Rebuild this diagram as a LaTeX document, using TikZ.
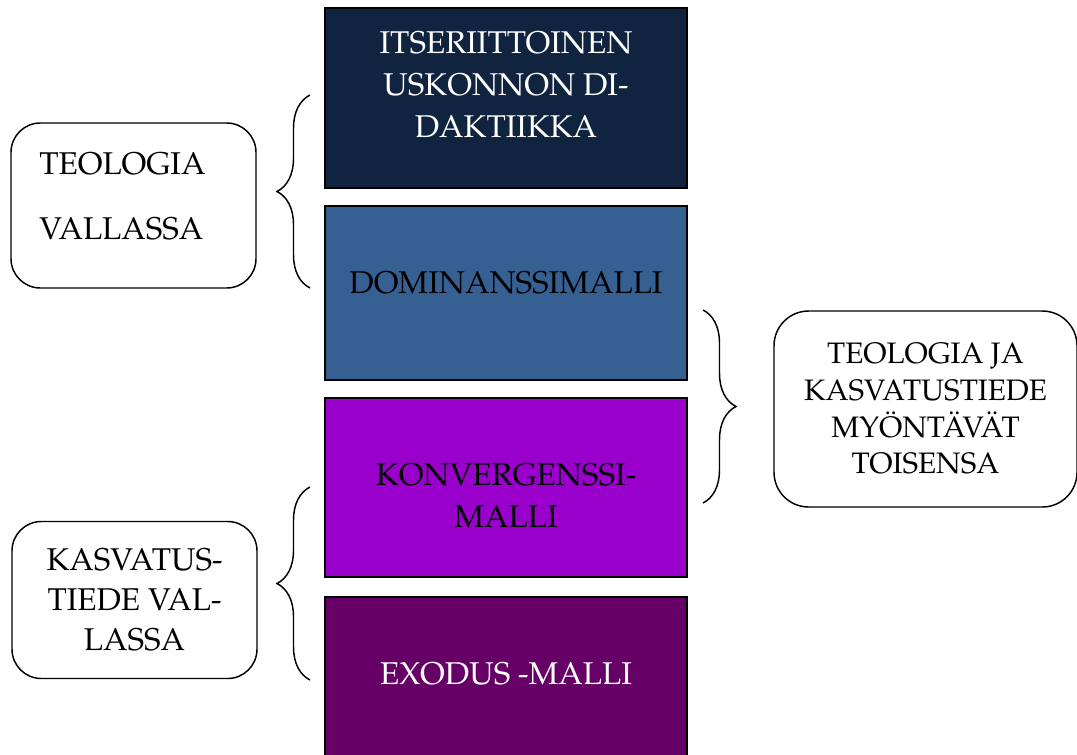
\documentclass[tikz,border=0pt]{standalone}
\usepackage[T1]{fontenc}
\usepackage{mathpazo}
\usetikzlibrary{decorations.pathreplacing}
\definecolor{navybox}{HTML}{10243F}
\definecolor{bluebox}{HTML}{376092}
\definecolor{violetbox}{HTML}{9900CC}
\definecolor{plumbox}{HTML}{660066}
\begin{document}
\begin{tikzpicture}[x=0.75pt,y=-0.75pt,
  model/.style={draw=black,line width=1.1pt,rectangle,inner sep=0pt,minimum width=271.5pt},
  modeltxt/.style={align=center,inner sep=0pt,font={\fontsize{23.6}{31.5}\selectfont}},
  side/.style={draw=black,line width=1.1pt,rectangle,rounded corners=22pt,inner sep=0pt,align=center,font={\fontsize{23.6}{30}\selectfont}},
  brc/.style={draw=black,line width=1.1pt,decorate,decoration={brace,amplitude=24.75pt}}]
\useasboundingbox (0,0) rectangle (1077,754);
% the four models
\node[model,fill=navybox,minimum height=135pt] (itse) at (506,98) {};
\node[model,fill=bluebox,minimum height=130.5pt] (domi) at (506,293) {};
\node[model,fill=violetbox,minimum height=134.25pt] (konv) at (506,487.5) {};
\node[model,fill=plumbox,minimum height=134.25pt] (exod) at (506,686.5) {};
\node[modeltxt,text=white] (itsetxt) at (506,85) {ITSERIITTOINEN\\USKONNON DI-\\DAKTIIKKA};
\node[modeltxt] (domitxt) at (506,282.5) {DOMINANSSIMALLI};
\node[modeltxt] (konvtxt) at (506,495.5) {KONVERGENSSI-\\MALLI};
\node[modeltxt,text=white] (exodtxt) at (506,674) {EXODUS -MALLI};
% side boxes
\node[side,minimum width=183.75pt,minimum height=123.75pt] (teol) at (133.5,205.5) {};
\node[modeltxt,anchor=west,align=left,font={\fontsize{23.6}{48.75}\selectfont}] (teoltxt) at (39,196) {TEOLOGIA\\VALLASSA};
\node[side,minimum width=183.75pt,minimum height=117.75pt] (kasv) at (134.5,600) {KASVATUS-\\TIEDE VAL-\\LASSA};
\node[side,rounded corners=26pt,minimum width=227.25pt,minimum height=147pt,font={\fontsize{22.2}{27.5}\selectfont}] (myon) at (925.5,409) {TEOLOGIA JA\\KASVATUSTIEDE\\MY\"ONT\"AV\"AT\\TOISENSA};
% braces
\coordinate (b1s) at (310,288);
\coordinate (b1e) at (310,95);
\coordinate (b2s) at (310,680);
\coordinate (b2e) at (310,487);
\coordinate (b3s) at (703,310);
\coordinate (b3e) at (703,503);
\draw[brc] (b1s) -- (b1e);
\draw[brc] (b2s) -- (b2e);
\draw[brc] (b3s) -- (b3e);
\end{tikzpicture}
\end{document}
